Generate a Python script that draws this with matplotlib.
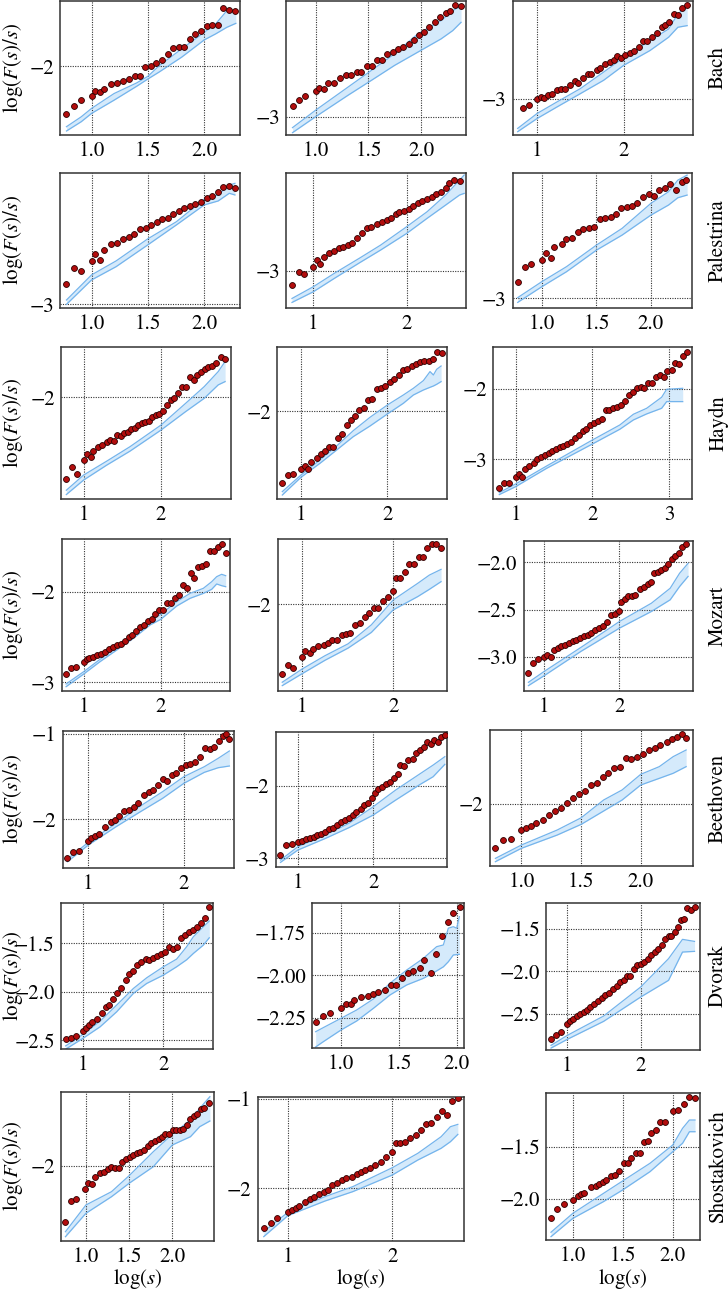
import matplotlib
matplotlib.use("Agg")
import matplotlib.pyplot as plt
from matplotlib.ticker import FixedLocator

plt.rcParams['font.family'] = ['STIXGeneral', 'DejaVu Serif']
plt.rcParams['mathtext.fontset'] = 'stix'
plt.rcParams['axes.unicode_minus'] = True

composers = ["Bach", "Palestrina", "Haydn", "Mozart", "Beethoven", "Dvorak", "Shostakovich"]

# ---------------- Bach ----------------
r1c1_x = [0.778,0.848,0.909,1.0,1.033,1.074,1.111,1.173,1.226,1.280,1.329,1.383,1.432,1.477,1.531,1.576,1.621,1.675,1.724,1.778,1.823,1.872,1.922,1.971,2.025,2.070,2.119,2.169,2.222,2.272]
r1c1_y = [-2.55,-2.454,-2.385,-2.342,-2.285,-2.30,-2.258,-2.204,-2.196,-2.165,-2.142,-2.115,-2.112,-2.008,-1.996,-1.962,-1.923,-1.858,-1.788,-1.777,-1.773,-1.677,-1.627,-1.585,-1.531,-1.523,-1.515,-1.323,-1.342,-1.354]
r1c1_bx = [0.778,0.909,1.0,1.2,1.4,1.5,1.6,1.8,2.0,2.1,2.2,2.28]
r1c1_lo = [-2.75,-2.642,-2.546,-2.392,-2.231,-2.146,-2.065,-1.892,-1.692,-1.623,-1.546,-1.5]
r1c1_hi = [-2.70,-2.585,-2.488,-2.315,-2.192,-2.115,-1.992,-1.796,-1.604,-1.508,-1.354,-1.346]

r1c2_x = [0.780,0.846,0.903,1.0,1.035,1.075,1.119,1.176,1.233,1.286,1.335,1.388,1.432,1.485,1.533,1.577,1.630,1.678,1.731,1.784,1.828,1.881,1.930,1.982,2.031,2.079,2.128,2.181,2.233,2.278,2.326,2.379]
r1c2_y = [-2.913,-2.866,-2.834,-2.792,-2.766,-2.779,-2.726,-2.726,-2.689,-2.668,-2.668,-2.642,-2.639,-2.597,-2.597,-2.55,-2.55,-2.497,-2.484,-2.463,-2.445,-2.418,-2.387,-2.347,-2.321,-2.287,-2.247,-2.208,-2.176,-2.155,-2.108,-2.121]
r1c2_bx = [0.78,1.0,1.308,1.529,1.749,1.969,2.189,2.30,2.379]
r1c2_lo = [-3.124,-2.997,-2.826,-2.708,-2.589,-2.484,-2.379,-2.313,-2.247]
r1c2_hi = [-3.084,-2.945,-2.761,-2.629,-2.497,-2.339,-2.234,-2.155,-2.116]

r1c3_x = [0.839,0.909,1.0,1.043,1.081,1.124,1.177,1.231,1.274,1.317,1.382,1.435,1.478,1.527,1.586,1.624,1.688,1.731,1.785,1.839,1.887,1.930,1.973,2.022,2.070,2.124,2.183,2.226,2.274,2.333,2.382,2.441,2.484,2.532,2.581,2.634,2.672,2.731]
r1c3_y = [-3.079,-3.052,-3.003,-2.982,-2.991,-2.961,-2.952,-2.915,-2.906,-2.906,-2.876,-2.836,-2.852,-2.806,-2.776,-2.776,-2.733,-2.718,-2.685,-2.664,-2.642,-2.612,-2.624,-2.603,-2.582,-2.558,-2.521,-2.473,-2.473,-2.436,-2.4,-2.345,-2.321,-2.294,-2.224,-2.233,-2.170,-2.139]
r1c3_bx = [0.774,1.0,1.231,1.5,1.769,2.0,2.306,2.522,2.629,2.737]
r1c3_lo = [-3.30,-3.179,-3.073,-2.952,-2.830,-2.694,-2.558,-2.436,-2.345,-2.330]
r1c3_hi = [-3.27,-3.133,-3.027,-2.906,-2.755,-2.624,-2.467,-2.361,-2.224,-2.148]

# ---------------- Palestrina ----------------
r2c1_x = [0.778,0.848,0.909,1.0,1.033,1.074,1.111,1.173,1.226,1.280,1.329,1.379,1.432,1.481,1.531,1.580,1.626,1.675,1.724,1.774,1.823,1.872,1.922,1.971,2.025,2.070,2.119,2.169,2.222,2.272]
r2c1_y = [-2.857,-2.743,-2.760,-2.690,-2.643,-2.686,-2.612,-2.571,-2.564,-2.533,-2.517,-2.5,-2.460,-2.455,-2.433,-2.410,-2.393,-2.381,-2.355,-2.333,-2.314,-2.298,-2.283,-2.267,-2.243,-2.226,-2.195,-2.160,-2.155,-2.167]
r2c1_bx = [0.778,1.0,1.218,1.498,1.753,2.0,2.123,2.222,2.272]
r2c1_lo = [-3.0,-2.826,-2.731,-2.576,-2.433,-2.290,-2.262,-2.207,-2.219]
r2c1_hi = [-2.969,-2.790,-2.690,-2.533,-2.410,-2.248,-2.219,-2.148,-2.136]

r2c2_x = [0.771,0.846,0.900,0.995,1.040,1.075,1.109,1.169,1.224,1.279,1.323,1.368,1.418,1.468,1.522,1.572,1.622,1.682,1.731,1.786,1.836,1.881,1.920,1.970,2.020,2.070,2.119,2.169,2.219,2.269,2.318,2.368,2.418,2.453,2.507,2.567]
r2c2_y = [-3.130,-3.009,-3.027,-2.964,-2.903,-2.939,-2.873,-2.842,-2.821,-2.797,-2.782,-2.767,-2.752,-2.7,-2.661,-2.615,-2.606,-2.579,-2.561,-2.539,-2.518,-2.488,-2.470,-2.458,-2.439,-2.409,-2.388,-2.367,-2.348,-2.327,-2.306,-2.288,-2.252,-2.206,-2.176,-2.185]
r2c2_bx = [0.771,1.0,1.224,1.502,1.721,2.0,2.219,2.418,2.567,2.617]
r2c2_lo = [-3.288,-3.191,-3.070,-2.924,-2.812,-2.661,-2.524,-2.403,-2.312,-2.297]
r2c2_hi = [-3.252,-3.145,-3.024,-2.882,-2.767,-2.6,-2.464,-2.312,-2.176,-2.130]

r2c3_x = [0.779,0.843,0.902,1.0,1.038,1.081,1.115,1.183,1.226,1.277,1.328,1.379,1.430,1.481,1.532,1.579,1.630,1.677,1.728,1.779,1.830,1.877,1.928,1.979,2.026,2.077,2.128,2.174,2.230,2.281,2.323]
r2c3_y = [-2.881,-2.774,-2.755,-2.726,-2.679,-2.710,-2.636,-2.612,-2.579,-2.571,-2.524,-2.502,-2.5,-2.493,-2.436,-2.424,-2.421,-2.398,-2.357,-2.35,-2.340,-2.321,-2.274,-2.257,-2.269,-2.224,-2.210,-2.183,-2.224,-2.167,-2.155]
r2c3_bx = [0.779,1.0,1.226,1.502,1.736,2.0,2.162,2.247,2.332]
r2c3_lo = [-3.029,-2.917,-2.810,-2.655,-2.548,-2.405,-2.333,-2.281,-2.262]
r2c3_hi = [-2.995,-2.881,-2.774,-2.619,-2.5,-2.321,-2.238,-2.155,-2.119]

# ---------------- Haydn ----------------
r3c1_x = [0.778,0.850,0.910,1.0,1.048,1.090,1.120,1.180,1.240,1.299,1.347,1.389,1.437,1.479,1.527,1.569,1.617,1.659,1.707,1.749,1.790,1.838,1.886,1.934,1.976,2.030,2.078,2.126,2.168,2.216,2.269,2.317,2.377,2.425,2.467,2.515,2.563,2.611,2.659,2.713,2.778,2.826]
r3c1_y = [-2.721,-2.612,-2.671,-2.553,-2.503,-2.524,-2.474,-2.435,-2.421,-2.397,-2.379,-2.385,-2.335,-2.341,-2.318,-2.303,-2.282,-2.268,-2.244,-2.229,-2.215,-2.206,-2.171,-2.156,-2.147,-2.121,-2.068,-2.024,-2.009,-1.965,-1.909,-1.909,-1.826,-1.847,-1.803,-1.774,-1.75,-1.738,-1.726,-1.697,-1.65,-1.662]
r3c1_bx = [0.778,1.0,1.299,1.599,2.0,2.317,2.557,2.737,2.826]
r3c1_lo = [-2.856,-2.729,-2.597,-2.474,-2.288,-2.126,-2.009,-1.891,-1.862]
r3c1_hi = [-2.818,-2.685,-2.562,-2.435,-2.244,-2.053,-1.906,-1.774,-1.685]

r3c2_x = [0.784,0.849,0.903,1.0,1.042,1.085,1.116,1.181,1.232,1.278,1.324,1.375,1.432,1.479,1.533,1.579,1.625,1.676,1.726,1.776,1.826,1.876,1.927,1.977,2.027,2.081,2.131,2.181,2.232,2.282,2.332,2.378,2.429,2.479,2.529,2.579,2.629]
r3c2_y = [-2.713,-2.64,-2.627,-2.58,-2.547,-2.58,-2.51,-2.47,-2.43,-2.397,-2.36,-2.353,-2.263,-2.227,-2.137,-2.087,-2.047,-1.987,-1.963,-1.887,-1.873,-1.777,-1.77,-1.747,-1.703,-1.673,-1.64,-1.587,-1.58,-1.543,-1.527,-1.51,-1.5,-1.497,-1.48,-1.403,-1.417]
r3c2_bx = [0.784,1.0,1.220,1.413,1.606,1.799,2.0,2.185,2.301,2.417,2.494,2.533,2.571,2.622]
r3c2_lo = [-2.837,-2.66,-2.52,-2.387,-2.253,-2.147,-2.027,-1.92,-1.837,-1.787,-1.76,-1.747,-1.73,-1.703]
r3c2_hi = [-2.803,-2.637,-2.487,-2.347,-2.193,-2.06,-1.937,-1.837,-1.77,-1.693,-1.603,-1.637,-1.58,-1.547]

r3c3_x = [0.787,0.848,0.909,1.0,1.043,1.082,1.121,1.178,1.234,1.282,1.330,1.382,1.430,1.477,1.525,1.577,1.612,1.672,1.725,1.777,1.824,1.872,1.920,1.967,2.020,2.067,2.124,2.176,2.219,2.271,2.323,2.375,2.427,2.479,2.527,2.575,2.627,2.675,2.727,2.779,2.826,2.878,2.931,2.974,3.030,3.078,3.126,3.174,3.226]
r3c3_y = [-3.408,-3.341,-3.341,-3.246,-3.209,-3.246,-3.142,-3.095,-3.047,-3.0,-2.972,-2.943,-2.915,-2.886,-2.858,-2.820,-2.810,-2.782,-2.749,-2.701,-2.659,-2.592,-2.564,-2.517,-2.479,-2.450,-2.431,-2.299,-2.299,-2.270,-2.261,-2.232,-2.175,-2.090,-2.047,-1.991,-1.976,-1.991,-1.910,-1.910,-1.834,-1.796,-1.825,-1.749,-1.730,-1.626,-1.645,-1.531,-1.469]
r3c3_bx = [0.787,1.0,1.404,2.0,2.356,2.532,2.705,2.900,2.965,3.174]
r3c3_lo = [-3.502,-3.389,-3.128,-2.782,-2.573,-2.441,-2.355,-2.275,-2.180,-2.180]
r3c3_hi = [-3.474,-3.351,-3.095,-2.725,-2.512,-2.360,-2.275,-2.118,-2.005,-1.991]

# ---------------- Mozart ----------------
r4c1_x = [0.771,0.840,0.900,1.0,1.039,1.074,1.117,1.177,1.229,1.277,1.329,1.381,1.429,1.481,1.537,1.584,1.632,1.684,1.732,1.784,1.831,1.883,1.931,1.983,2.035,2.087,2.134,2.186,2.234,2.286,2.338,2.390,2.437,2.489,2.541,2.593,2.641,2.693,2.740,2.792,2.844]
r4c1_y = [-2.908,-2.838,-2.830,-2.771,-2.742,-2.731,-2.723,-2.694,-2.683,-2.661,-2.635,-2.613,-2.583,-2.572,-2.539,-2.502,-2.480,-2.435,-2.384,-2.362,-2.317,-2.295,-2.247,-2.199,-2.199,-2.125,-2.125,-2.063,-2.037,-1.923,-1.952,-1.793,-1.841,-1.720,-1.712,-1.690,-1.542,-1.542,-1.502,-1.472,-1.565]
r4c1_bx = [0.771,1.0,1.212,1.429,1.645,1.861,2.0,2.208,2.381,2.554,2.662,2.727,2.792,2.844]
r4c1_lo = [-3.048,-2.908,-2.771,-2.642,-2.513,-2.365,-2.303,-2.155,-2.070,-2.015,-1.970,-1.911,-1.93,-1.941]
r4c1_hi = [-3.018,-2.882,-2.745,-2.613,-2.476,-2.317,-2.247,-2.107,-2.015,-1.959,-1.886,-1.830,-1.804,-1.819]

r4c2_x = [0.781,0.842,0.903,1.0,1.036,1.082,1.122,1.179,1.235,1.281,1.327,1.383,1.434,1.480,1.531,1.582,1.638,1.689,1.735,1.791,1.837,1.893,1.944,1.995,2.036,2.077,2.128,2.179,2.230,2.281,2.332,2.372,2.423,2.474,2.526]
r4c2_y = [-2.697,-2.607,-2.64,-2.53,-2.473,-2.49,-2.447,-2.423,-2.407,-2.39,-2.357,-2.357,-2.307,-2.3,-2.29,-2.21,-2.19,-2.133,-2.09,-2.04,-2.04,-1.967,-1.923,-1.863,-1.74,-1.74,-1.673,-1.597,-1.597,-1.53,-1.523,-1.44,-1.393,-1.4,-1.433]
r4c2_bx = [0.781,1.0,1.25,1.505,1.760,2.0,2.270,2.398,2.526]
r4c2_lo = [-2.817,-2.697,-2.563,-2.44,-2.283,-2.057,-1.923,-1.85,-1.773]
r4c2_hi = [-2.783,-2.65,-2.517,-2.397,-2.207,-1.957,-1.79,-1.707,-1.65]

r4c3_x = [0.788,0.85,0.913,1.0,1.038,1.088,1.125,1.175,1.225,1.275,1.325,1.375,1.425,1.475,1.525,1.575,1.625,1.675,1.725,1.775,1.831,1.888,1.938,1.988,2.019,2.069,2.113,2.163,2.213,2.275,2.325,2.375,2.425,2.463,2.513,2.55,2.6,2.65,2.694,2.738,2.788,2.831,2.881]
r4c3_y = [-3.168,-3.063,-3.018,-3.0,-2.975,-3.0,-2.930,-2.905,-2.888,-2.870,-2.853,-2.835,-2.825,-2.8,-2.775,-2.765,-2.747,-2.719,-2.695,-2.677,-2.635,-2.554,-2.544,-2.519,-2.414,-2.389,-2.361,-2.351,-2.344,-2.284,-2.263,-2.228,-2.211,-2.109,-2.098,-2.081,-2.063,-2.018,-1.968,-1.933,-1.905,-1.835,-1.807]
r4c3_bx = [0.788,1.0,1.488,2.0,2.425,2.675,2.8,2.913]
r4c3_lo = [-3.302,-3.196,-2.940,-2.695,-2.519,-2.396,-2.256,-2.149]
r4c3_hi = [-3.267,-3.151,-2.898,-2.625,-2.432,-2.274,-2.116,-2.011]

# ---------------- Beethoven ----------------
r5c1_x = [0.782,0.845,0.903,1.0,1.034,1.073,1.112,1.175,1.233,1.277,1.325,1.379,1.427,1.476,1.524,1.583,1.631,1.680,1.728,1.777,1.825,1.874,1.922,1.971,2.019,2.068,2.117,2.165,2.218,2.272,2.320,2.369,2.408,2.437,2.476]
r5c1_y = [-2.457,-2.379,-2.367,-2.254,-2.223,-2.195,-2.168,-2.094,-2.035,-2.008,-1.961,-1.898,-1.891,-1.859,-1.805,-1.715,-1.684,-1.656,-1.598,-1.527,-1.547,-1.480,-1.461,-1.402,-1.363,-1.355,-1.324,-1.266,-1.168,-1.176,-1.148,-1.082,-1.020,-0.996,-1.059]
r5c1_bx = [0.782,1.0,1.291,1.534,1.777,2.0,2.214,2.359,2.476]
r5c1_lo = [-2.496,-2.301,-2.086,-1.918,-1.754,-1.578,-1.449,-1.395,-1.375]
r5c1_hi = [-2.465,-2.270,-2.047,-1.852,-1.676,-1.5,-1.383,-1.285,-1.199]

r5c2_x = [0.770,0.845,0.919,1.0,1.056,1.106,1.155,1.211,1.261,1.311,1.366,1.416,1.466,1.522,1.571,1.621,1.677,1.727,1.776,1.832,1.882,1.932,1.988,2.025,2.068,2.118,2.168,2.224,2.273,2.323,2.360,2.404,2.466,2.522,2.571,2.621,2.671,2.720,2.764,2.807,2.857,2.901,2.950]
r5c2_y = [-2.954,-2.816,-2.802,-2.779,-2.760,-2.737,-2.724,-2.700,-2.677,-2.659,-2.631,-2.599,-2.576,-2.539,-2.502,-2.475,-2.438,-2.401,-2.364,-2.318,-2.263,-2.235,-2.171,-2.101,-2.041,-2.009,-1.977,-1.940,-1.885,-1.839,-1.710,-1.724,-1.641,-1.627,-1.548,-1.502,-1.456,-1.396,-1.419,-1.364,-1.396,-1.318,-1.295]
r5c2_bx = [0.770,1.0,1.366,1.677,2.0,2.298,2.609,2.795,2.950]
r5c2_lo = [-3.055,-2.885,-2.724,-2.576,-2.401,-2.194,-1.986,-1.871,-1.700]
r5c2_hi = [-3.023,-2.839,-2.677,-2.516,-2.286,-2.055,-1.839,-1.710,-1.594]

r5c3_x = [0.782,0.844,0.911,1.0,1.039,1.078,1.125,1.183,1.233,1.284,1.331,1.385,1.436,1.486,1.533,1.580,1.634,1.681,1.728,1.778,1.829,1.875,1.922,1.969,2.019,2.070,2.117,2.163,2.218,2.261,2.304,2.350,2.381]
r5c3_y = [-2.508,-2.419,-2.412,-2.304,-2.277,-2.254,-2.227,-2.188,-2.131,-2.085,-2.046,-1.996,-1.938,-1.892,-1.854,-1.785,-1.758,-1.696,-1.65,-1.592,-1.573,-1.477,-1.488,-1.458,-1.431,-1.381,-1.362,-1.323,-1.285,-1.254,-1.227,-1.196,-1.238]
r5c3_bx = [0.782,1.0,1.300,1.502,1.689,1.844,2.0,2.156,2.272,2.381]
r5c3_lo = [-2.669,-2.515,-2.362,-2.238,-2.085,-1.958,-1.785,-1.708,-1.65,-1.573]
r5c3_hi = [-2.631,-2.477,-2.304,-2.162,-1.958,-1.842,-1.662,-1.573,-1.458,-1.381]

# ---------------- Dvorak ----------------
r6c1_x = [0.789,0.851,0.917,1.0,1.041,1.074,1.116,1.182,1.236,1.285,1.331,1.380,1.430,1.479,1.533,1.579,1.628,1.678,1.727,1.781,1.826,1.876,1.926,1.975,2.025,2.074,2.124,2.174,2.223,2.273,2.322,2.372,2.421,2.471,2.521,2.570]
r6c1_y = [-2.491,-2.474,-2.454,-2.402,-2.371,-2.344,-2.309,-2.275,-2.223,-2.155,-2.131,-2.069,-2.007,-1.959,-1.883,-1.821,-1.787,-1.725,-1.691,-1.663,-1.677,-1.656,-1.629,-1.608,-1.588,-1.536,-1.560,-1.540,-1.450,-1.416,-1.388,-1.361,-1.330,-1.296,-1.237,-1.127]
r6c1_bx = [0.789,1.0,1.215,1.421,1.628,1.793,2.0,2.165,2.289,2.372,2.496,2.570]
r6c1_lo = [-2.591,-2.481,-2.361,-2.206,-2.017,-1.914,-1.828,-1.742,-1.67,-1.605,-1.519,-1.443]
r6c1_hi = [-2.557,-2.440,-2.302,-2.137,-1.966,-1.856,-1.742,-1.663,-1.536,-1.433,-1.330,-1.271]

r6c2_x = [0.781,0.847,0.908,1.0,1.043,1.084,1.115,1.176,1.233,1.280,1.323,1.380,1.429,1.476,1.530,1.579,1.622,1.680,1.720,1.775,1.821,1.876,1.928,1.971,2.026]
r6c2_y = [-2.276,-2.240,-2.224,-2.191,-2.171,-2.171,-2.146,-2.130,-2.122,-2.112,-2.098,-2.085,-2.055,-2.055,-2.016,-1.988,-1.976,-1.959,-1.909,-1.986,-1.876,-1.766,-1.687,-1.634,-1.598]
r6c2_bx = [0.781,0.847,1.0,1.135,1.280,1.424,1.568,1.712,1.827,1.885,1.928,1.971,2.0,2.023]
r6c2_lo = [-2.423,-2.392,-2.323,-2.270,-2.195,-2.116,-2.057,-2.018,-1.974,-1.95,-1.92,-1.880,-1.878,-1.876]
r6c2_hi = [-2.333,-2.309,-2.254,-2.205,-2.140,-2.047,-1.969,-1.900,-1.831,-1.821,-1.722,-1.713,-1.722,-1.654]

r6c3_x = [0.778,0.848,0.911,1.0,1.038,1.082,1.127,1.177,1.222,1.272,1.316,1.367,1.418,1.468,1.519,1.570,1.620,1.671,1.715,1.766,1.810,1.861,1.911,1.956,2.0,2.051,2.095,2.139,2.190,2.241,2.285,2.329,2.380,2.418,2.462,2.506,2.544,2.589,2.633,2.684,2.734]
r6c3_y = [-2.795,-2.748,-2.717,-2.618,-2.591,-2.567,-2.531,-2.504,-2.480,-2.453,-2.421,-2.390,-2.354,-2.315,-2.283,-2.252,-2.213,-2.173,-2.126,-2.098,-2.059,-2.055,-1.976,-1.929,-1.917,-1.890,-1.858,-1.811,-1.772,-1.732,-1.685,-1.622,-1.583,-1.583,-1.535,-1.476,-1.398,-1.378,-1.252,-1.280,-1.240]
r6c3_bx = [0.778,1.0,1.494,2.0,2.380,2.570,2.734]
r6c3_lo = [-2.906,-2.803,-2.591,-2.303,-2.106,-1.772,-1.764]
r6c3_hi = [-2.874,-2.756,-2.528,-2.185,-1.850,-1.622,-1.646]

# ---------------- Shostakovich ----------------
r7c1_x = [0.763,0.828,0.887,0.984,1.027,1.065,1.102,1.161,1.215,1.258,1.296,1.339,1.382,1.419,1.462,1.505,1.543,1.586,1.629,1.672,1.715,1.758,1.801,1.844,1.882,1.919,1.962,2.011,2.048,2.091,2.129,2.172,2.210,2.253,2.290,2.328,2.371,2.425]
r7c1_y = [-2.557,-2.35,-2.333,-2.233,-2.167,-2.18,-2.107,-2.073,-2.057,-2.03,-2.007,-2.017,-2.017,-1.957,-1.933,-1.913,-1.89,-1.867,-1.857,-1.84,-1.8,-1.767,-1.75,-1.733,-1.71,-1.683,-1.68,-1.64,-1.64,-1.637,-1.633,-1.59,-1.53,-1.497,-1.483,-1.43,-1.423,-1.373]
r7c1_bx = [0.763,1.0,1.296,1.5,1.780,2.0,2.210,2.317,2.435]
r7c1_lo = [-2.707,-2.473,-2.307,-2.173,-2.007,-1.79,-1.707,-1.607,-1.55]
r7c1_hi = [-2.657,-2.39,-2.257,-2.097,-1.857,-1.683,-1.54,-1.423,-1.307]

r7c2_x = [0.769,0.836,0.898,1.0,1.036,1.076,1.111,1.164,1.213,1.253,1.298,1.342,1.382,1.422,1.467,1.52,1.56,1.613,1.658,1.698,1.742,1.787,1.836,1.889,1.942,2.0,2.031,2.076,2.12,2.169,2.222,2.271,2.32,2.373,2.427,2.476,2.52,2.573,2.627]
r7c2_y = [-2.448,-2.384,-2.336,-2.269,-2.243,-2.224,-2.194,-2.149,-2.123,-2.093,-2.067,-2.045,-2.019,-1.963,-1.944,-1.907,-1.888,-1.869,-1.843,-1.821,-1.795,-1.769,-1.739,-1.701,-1.646,-1.590,-1.496,-1.489,-1.478,-1.440,-1.403,-1.347,-1.284,-1.272,-1.198,-1.134,-1.179,-1.022,-0.985]
r7c2_bx = [0.769,1.0,1.356,1.622,2.0,2.244,2.467,2.556,2.627]
r7c2_lo = [-2.541,-2.306,-2.142,-2.037,-1.851,-1.683,-1.552,-1.478,-1.396]
r7c2_hi = [-2.485,-2.269,-2.093,-1.981,-1.769,-1.608,-1.422,-1.310,-1.284]

r7c3_x = [0.781,0.842,0.907,1.0,1.047,1.079,1.112,1.177,1.228,1.260,1.298,1.335,1.381,1.423,1.460,1.516,1.553,1.586,1.633,1.670,1.716,1.753,1.786,1.828,1.874,1.926,2.0,2.051,2.112,2.167,2.223]
r7c3_y = [-2.178,-2.099,-2.048,-2.010,-1.971,-1.955,-1.946,-1.882,-1.876,-1.860,-1.841,-1.818,-1.780,-1.771,-1.732,-1.659,-1.659,-1.605,-1.564,-1.564,-1.452,-1.446,-1.366,-1.341,-1.268,-1.261,-1.159,-1.150,-1.096,-1.022,-1.038]
r7c3_bx = [0.781,1.0,1.307,1.498,1.772,2.0,2.098,2.167,2.223]
r7c3_lo = [-2.360,-2.185,-2.025,-1.914,-1.739,-1.548,-1.468,-1.357,-1.357]
r7c3_hi = [-2.318,-2.137,-1.946,-1.828,-1.659,-1.484,-1.325,-1.245,-1.245]

# ---------------- tick values and axis ranges ----------------
xticks = [
    [[1.0, 1.5, 2.0], [1.0, 1.5, 2.0], [1, 2]],
    [[1.0, 1.5, 2.0], [1, 2], [1.0, 1.5, 2.0]],
    [[1, 2], [1, 2], [1, 2, 3]],
    [[1, 2], [1, 2], [1, 2]],
    [[1, 2], [1, 2], [1.0, 1.5, 2.0]],
    [[1, 2], [1.0, 1.5, 2.0], [1, 2]],
    [[1.0, 1.5, 2.0], [1, 2], [1.0, 1.5, 2.0]],
]
yticks = [
    [[-2], [-3], [-3]],
    [[-3], [-3], [-3]],
    [[-2], [-2], [-3, -2]],
    [[-3, -2], [-2], [-3.0, -2.5, -2.0]],
    [[-2, -1], [-3, -2], [-2]],
    [[-2.5, -2.0, -1.5], [-2.25, -2.00, -1.75], [-2.5, -2.0, -1.5]],
    [[-2], [-2, -1], [-2.0, -1.5]],
]
xlims = [
    [(0.724, 2.317), (0.722, 2.427), (0.720, 2.801)],
    [(0.724, 2.317), (0.711, 2.632), (0.736, 2.374)],
    [(0.713, 2.898), (0.726, 2.687), (0.709, 3.299)],
    [(0.714, 2.900), (0.730, 2.587), (0.725, 2.98)],
    [(0.733, 2.519), (0.708, 2.98), (0.735, 2.436)],
    [(0.731, 2.620), (0.752, 2.066), (0.715, 2.810)],
    [(0.715, 2.478), (0.711, 2.689), (0.735, 2.274)],
]
ylims = [
    [(-2.80, -1.238), (-3.145, -2.076), (-3.333, -2.103)],
    [(-3.024, -2.06), (-3.336, -2.109), (-3.067, -2.102)],
    [(-2.897, -1.562), (-2.88, -1.36), (-3.569, -1.408)],
    [(-3.096, -1.413), (-2.873, -1.34), (-3.361, -1.772)],
    [(-2.566, -0.965), (-3.115, -1.249), (-2.719, -1.154)],
    [(-2.589, -1.088), (-2.431, -1.575), (-2.923, -1.189)],
    [(-2.747, -1.257), (-2.590, -0.974), (-2.395, -0.984)],
]

panels = [
    [(r1c1_x, r1c1_y, r1c1_bx, r1c1_lo, r1c1_hi), (r1c2_x, r1c2_y, r1c2_bx, r1c2_lo, r1c2_hi), (r1c3_x, r1c3_y, r1c3_bx, r1c3_lo, r1c3_hi)],
    [(r2c1_x, r2c1_y, r2c1_bx, r2c1_lo, r2c1_hi), (r2c2_x, r2c2_y, r2c2_bx, r2c2_lo, r2c2_hi), (r2c3_x, r2c3_y, r2c3_bx, r2c3_lo, r2c3_hi)],
    [(r3c1_x, r3c1_y, r3c1_bx, r3c1_lo, r3c1_hi), (r3c2_x, r3c2_y, r3c2_bx, r3c2_lo, r3c2_hi), (r3c3_x, r3c3_y, r3c3_bx, r3c3_lo, r3c3_hi)],
    [(r4c1_x, r4c1_y, r4c1_bx, r4c1_lo, r4c1_hi), (r4c2_x, r4c2_y, r4c2_bx, r4c2_lo, r4c2_hi), (r4c3_x, r4c3_y, r4c3_bx, r4c3_lo, r4c3_hi)],
    [(r5c1_x, r5c1_y, r5c1_bx, r5c1_lo, r5c1_hi), (r5c2_x, r5c2_y, r5c2_bx, r5c2_lo, r5c2_hi), (r5c3_x, r5c3_y, r5c3_bx, r5c3_lo, r5c3_hi)],
    [(r6c1_x, r6c1_y, r6c1_bx, r6c1_lo, r6c1_hi), (r6c2_x, r6c2_y, r6c2_bx, r6c2_lo, r6c2_hi), (r6c3_x, r6c3_y, r6c3_bx, r6c3_lo, r6c3_hi)],
    [(r7c1_x, r7c1_y, r7c1_bx, r7c1_lo, r7c1_hi), (r7c2_x, r7c2_y, r7c2_bx, r7c2_lo, r7c2_hi), (r7c3_x, r7c3_y, r7c3_bx, r7c3_lo, r7c3_hi)],
]

# axes boxes in pixels: (left, right, top, bottom)
boxes = [
    [(60.4, 240.0, 0.8, 135.3), (286.4, 466.1, 0.8, 135.3), (513.0, 692.7, 0.8, 135.3)],
    [(60.4, 240.0, 172.7, 307.7), (286.4, 465.6, 172.7, 307.7), (513.0, 691.7, 172.7, 307.7)],
    [(61.3, 230.7, 347.5, 499.2), (277.3, 446.7, 347.3, 499.3), (493.3, 692.3, 347.3, 499.3)],
    [(61.7, 230.0, 539.0, 691.0), (277.6, 446.6, 538.5, 691.2), (523.7, 693.1, 540.7, 691.2)],
    [(62.7, 233.5, 731.0, 867.7), (275.8, 447.1, 731.7, 866.7), (489.8, 692.7, 730.3, 866.0)],
    [(61.0, 213.3, 903.3, 1049.0), (312.3, 464.3, 903.3, 1048.3), (546.4, 700.1, 902.7, 1049.5)],
    [(61.3, 213.6, 1091.7, 1240.7), (257.7, 464.3, 1096.7, 1241.0), (546.4, 700.1, 1092.7, 1240.3)],
]

W, H = 728, 1291
fig = plt.figure(figsize=(W / 100, H / 100), dpi=100)
FS = 15

for r in range(7):
    for c in range(3):
        L, R, T, B = boxes[r][c]
        ax = fig.add_axes([L / W, 1 - B / H, (R - L) / W, (B - T) / H])
        x, y, bx, lo, hi = panels[r][c]
        ax.fill_between(bx, lo, hi, color='#d5eafb', lw=0, zorder=1)
        ax.plot(bx, lo, color='#74b4ec', lw=0.9, zorder=2)
        ax.plot(bx, hi, color='#74b4ec', lw=0.9, zorder=2)
        ax.scatter(x, y, s=18, color='#b20d0d', edgecolors='#2b0000',
                   linewidths=0.6, zorder=3)
        ax.set_xlim(*xlims[r][c])
        ax.set_ylim(*ylims[r][c])
        ax.xaxis.set_major_locator(FixedLocator(xticks[r][c]))
        ax.yaxis.set_major_locator(FixedLocator(yticks[r][c]))
        ax.grid(True, linestyle=(0, (1, 1.2)), color='#333333', linewidth=0.8)
        ax.tick_params(length=0, pad=4.5, labelsize=FS)
        for sp in ax.spines.values():
            sp.set_color('#333333')
            sp.set_linewidth(1.1)
        cy = (T + B) / 2
        if c == 0:
            fig.text(13 / W, 1 - cy / H, r'$\log(F(s)/s)$', rotation=90,
                     ha='center', va='center', fontsize=FS)
        if c == 2:
            fig.text(718 / W, 1 - cy / H, composers[r], rotation=90,
                     ha='center', va='center', fontsize=FS)
        if r == 6:
            fig.text((L + R) / 2 / W, 1 - 1279 / H, r'$\log(s)$',
                     ha='center', va='center', fontsize=FS)

fig.savefig('out.png', dpi=100)
